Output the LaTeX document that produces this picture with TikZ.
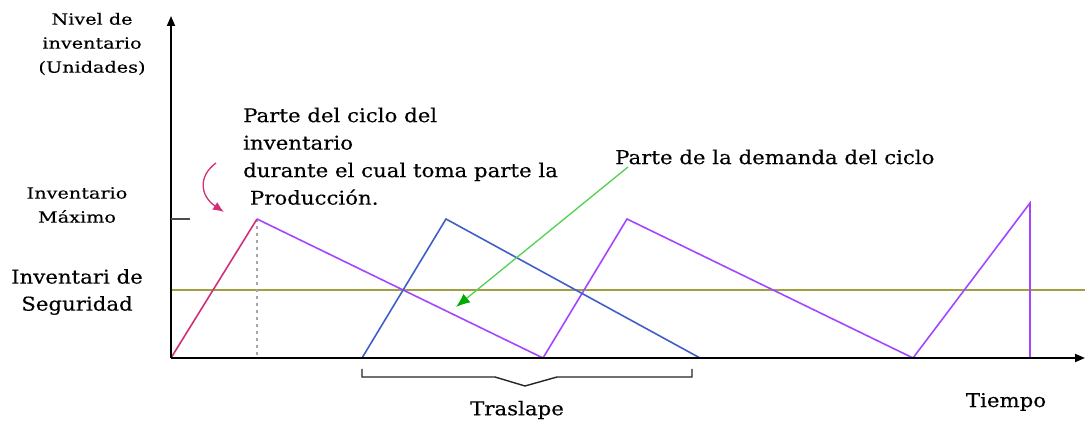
\documentclass[tikz,border=0pt]{standalone}
\usepackage{fontspec}
\setmainfont{DejaVu Serif}
\usetikzlibrary{arrows.meta}
\definecolor{prodc}{RGB}{208,48,122}
\definecolor{purp}{RGB}{165,70,255}
\definecolor{bluec}{RGB}{64,96,200}
\definecolor{olive2}{RGB}{160,160,64}
\definecolor{greenl}{RGB}{80,210,80}
\definecolor{greent}{RGB}{0,170,0}
\newfontfamily\spacedfont[FakeStretch=1.12,FakeBold=0.3]{DejaVu Serif}
\newfontfamily\widefont[FakeStretch=1.24,FakeBold=0.3]{DejaVu Serif}
\tikzset{
  axis/.style={draw=black,line width=1.9pt,-{Triangle[length=10pt,width=8pt]}},
  prodline/.style={draw=prodc,line width=1.6pt},
  purpline/.style={draw=purp,line width=1.6pt,line join=miter},
  blueline/.style={draw=bluec,line width=1.6pt,line join=miter},
  safeline/.style={draw=olive2,line width=1.6pt},
  small/.style={font=\widefont\fontsize{15.5}{24}\selectfont,align=center,inner sep=0pt},
  big/.style={font=\spacedfont\fontsize{19}{27}\selectfont,inner sep=0pt},
}
\begin{document}
\begin{tikzpicture}[x=1pt,y=-1pt]
\useasboundingbox[fill=white] (0,0) rectangle (1085,427);
% coordinates
\coordinate (O) at (171,358);
\coordinate (Ytop) at (171,16);
\coordinate (Xend) at (1085,358);
\coordinate (Mt) at (171,219);
\coordinate (Mtick) at (190,219);
\coordinate (S0) at (171,290);
\coordinate (S1) at (1085,290);
\coordinate (p1) at (257,219);
\coordinate (p1b) at (257,358);
\coordinate (p2) at (543,358);
\coordinate (p3) at (627,219);
\coordinate (p4) at (913,358);
\coordinate (p5) at (1030,203);
\coordinate (p6) at (1030,358);
\coordinate (b0) at (362,358);
\coordinate (b1) at (446,219);
\coordinate (b2) at (700,358);
\coordinate (ga) at (628,167);
\coordinate (gb) at (456,307);
\coordinate (ma) at (216,163);
\coordinate (mb) at (224,212);
\coordinate (brL) at (362,369);
\coordinate (brR) at (692,369);
% safety line
\draw[safeline] (S0) -- (S1);
% dotted
\draw[gray!70,line width=1.3pt,dash pattern=on 3pt off 4pt] (p1) -- (p1b);
% curves
\draw[prodline] (O) -- (p1);
\draw[purpline] (p1) -- (p2) -- (p3) -- (p4) -- (p5) -- (p6);
\draw[blueline] (b0) -- (b1) -- (b2);
% axes
\draw[axis] (O) -- (Ytop);
\draw[axis] (O) -- (Xend);
\draw[black!70,line width=1.4pt] (Mt) -- (Mtick);
% green arrow
\draw[greenl,line width=1.3pt,-{Latex[length=14pt,width=11pt,color=greent]}] (ga) -- (gb);
% magenta arrow
\draw[prodc,line width=1.3pt,-{Latex[length=11pt,width=9pt]}] (ma) .. controls (198,176) and (200,196) .. (mb);
% bracket
\draw[black!85,line width=1.4pt] (brL) -- ++(0,8) -- (495,377) -- (525,386) -- (557,377) -- (692,377) -- (brR);
% labels
\node[small] (nivel) at (92,44) {Nivel de\\inventario\\(Unidades)};
\node[small] (imax) at (77,205) {Inventario\\Máximo};
\node[big,align=center] (iseg) at (77,292) {Inventari de\\Seguridad};
\node[big,align=left,anchor=north west,font=\spacedfont\fontsize{19}{27.5}\selectfont] (prodtxt) at (243,107.5) {Parte del ciclo del\\inventario\\durante el cual toma parte la\\\ Producción.};
\node[big,anchor=west] (demtxt) at (615,157) {Parte de la demanda del ciclo};
\node[big] (tras) at (517,410) {Traslape};
\node[big] (tiempo) at (1006,402) {Tiempo};
\end{tikzpicture}
\end{document}
